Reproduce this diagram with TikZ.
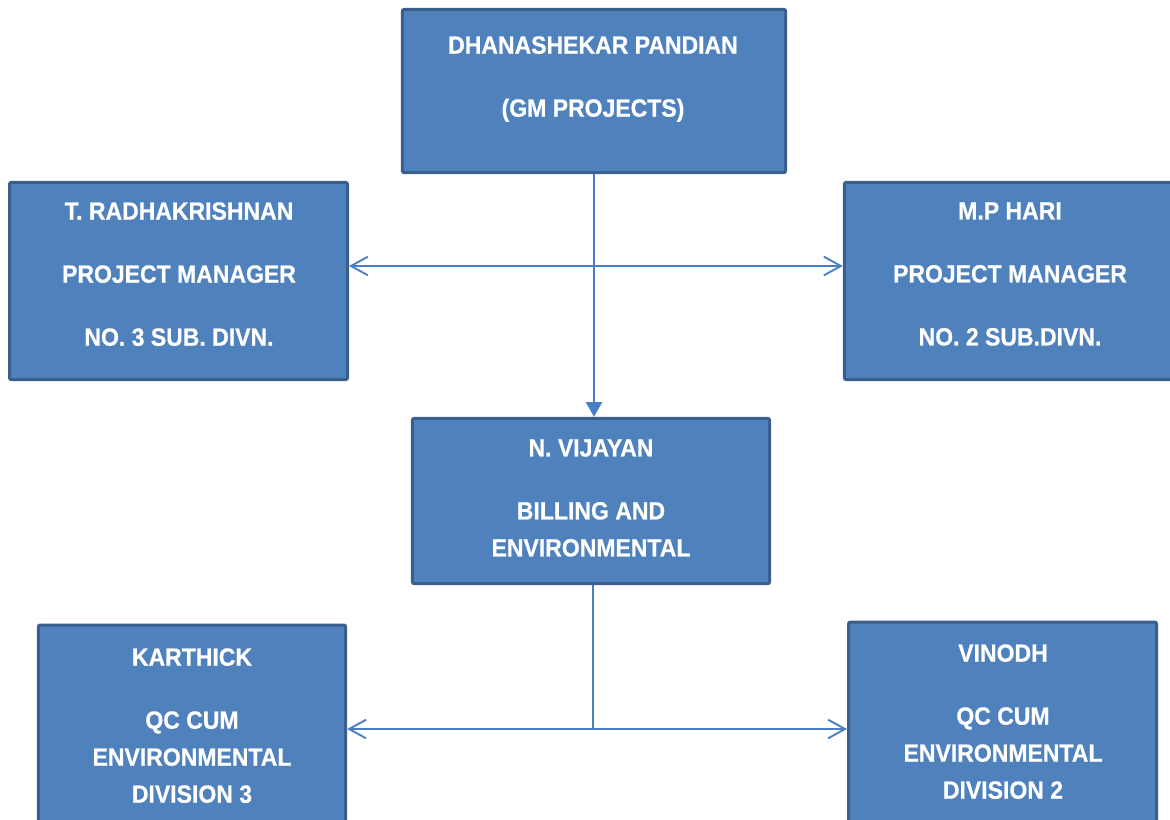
\documentclass[tikz,border=0pt]{standalone}
\usepackage{fontspec}
\setmainfont{Liberation Sans}[FakeStretch=0.92,BoldFeatures={FakeBold=0.6}]
\usepackage{tikz}
\usetikzlibrary{arrows.meta}

\definecolor{boxfill}{HTML}{4F81BD}
\definecolor{boxline}{HTML}{3A5F8C}
\definecolor{linkcol}{HTML}{4A7EC4}

\tikzset{
  orgbox/.style={draw=boxline,fill=boxfill,line width=2.25pt,rounded corners=1.5pt,inner sep=0pt},
  orgtext/.style={anchor=north,inner sep=0pt,align=center,text=white,
    font=\fontsize{18.75pt}{27.75pt}\selectfont\bfseries},
  barb/.style={-{Straight Barb[length=12.75pt,width=14pt,line width=1.4pt]}},
  link/.style={draw=linkcol,line width=1.4pt}
}

\begin{document}
\begin{tikzpicture}[x=0.75pt,y=-0.75pt]
\useasboundingbox (0,0) rectangle (1170,820);
\clip (0,0) rectangle (1170,820);
% boxes
\node[orgbox,minimum width=287.5pt,minimum height=122.5pt] (gm) at (594,91) {};
\node[orgbox,minimum width=253.5pt,minimum height=148pt] (pm3) at (178.5,281) {};
\node[orgbox,minimum width=253pt,minimum height=148pt] (pm2) at (1013,281) {};
\node[orgbox,minimum width=268pt,minimum height=124pt] (bill) at (591,501) {};
\node[orgbox,minimum width=230.5pt,minimum height=165pt] (qc3) at (192,735) {};
\node[orgbox,minimum width=231pt,minimum height=165pt] (qc2) at (1002.5,732) {};
% texts
\node[orgtext] (gmtext) at (593,36) {DHANASHEKAR PANDIAN\\[19.5pt](GM PROJECTS)};
\node[orgtext] (pm3text) at (179,202) {T. RADHAKRISHNAN\\[19.5pt]PROJECT MANAGER\\[19.5pt]NO. 3 SUB. DIVN.};
\node[orgtext] (pm2text) at (1010,202) {M.P HARI\\[19.5pt]PROJECT MANAGER\\[19.5pt]NO. 2 SUB.DIVN.};
\node[orgtext] (billtext) at (591,439) {N. VIJAYAN\\[19.5pt]BILLING AND\\ENVIRONMENTAL};
\node[orgtext] (qc3text) at (192,648) {KARTHICK\\[19.5pt]QC CUM\\ENVIRONMENTAL\\DIVISION 3};
\node[orgtext] (qc2text) at (1003,644) {VINODH\\[19.5pt]QC CUM\\ENVIRONMENTAL\\DIVISION 2};
% connectors
\coordinate (top) at (594,266);
\coordinate (low) at (593,729);
\draw[link,-{Triangle[length=11pt,width=12pt]}] (gm.south -| top) -- (bill.north -| top);
\draw[link,barb] (top) -- (top -| pm3.east);
\draw[link,barb] (top) -- (top -| pm2.west);
\draw[link] (bill.south -| low) -- (low);
\draw[link,barb] (low) -- (low -| qc3.east);
\draw[link,barb] (low) -- (low -| qc2.west);
\end{tikzpicture}
\end{document}
